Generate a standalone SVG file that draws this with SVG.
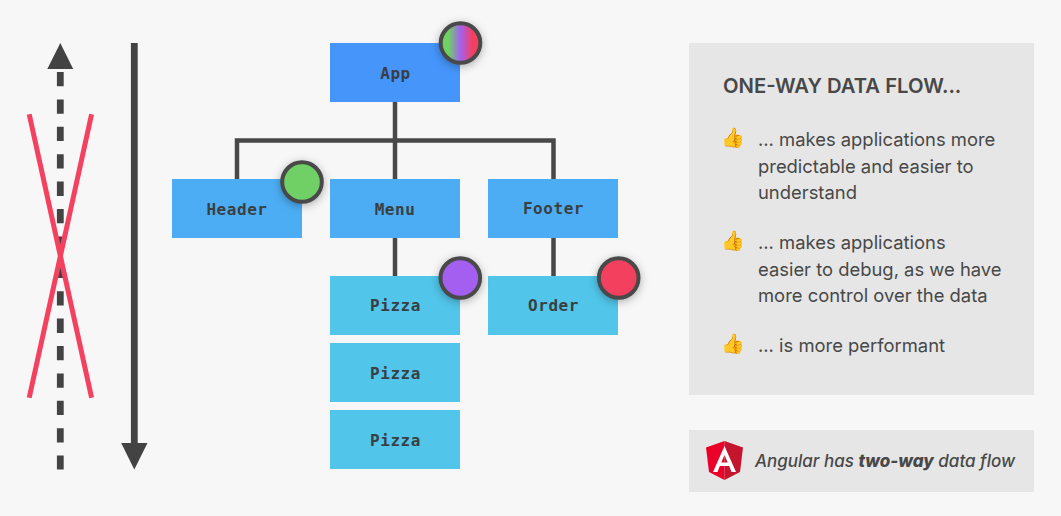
<svg xmlns="http://www.w3.org/2000/svg" width="1061" height="516" viewBox="0 0 1061 516">
<style>
.code{font-family:"DejaVu Sans Mono","Liberation Mono",monospace;font-size:16px;font-weight:700;fill:#3a3f42;text-anchor:middle;letter-spacing:.55px}
.body{font-family:Inter,"Noto Sans",sans-serif;font-size:18.4px;fill:#484848}
.emo{font-family:"Noto Color Emoji","DejaVu Sans",sans-serif;font-size:19px}
.wire{stroke:#484848;stroke-width:4.5;fill:none}
.dot{stroke:#484848;stroke-width:4;filter:url(#sh)}
.a{fill:#4595fb}.b{fill:#4cadf4}.c{fill:#51c5ea}
.x{stroke:#f4415f;stroke-width:5;fill:none}
</style>
<defs>
<linearGradient id="g"><stop offset=".2" stop-color="#6fd066"/><stop offset=".5" stop-color="#a45ff0"/><stop offset=".8" stop-color="#f4415f"/></linearGradient>
<filter id="sh" x="-40%" y="-40%" width="180%" height="180%"><feDropShadow dx="0" dy="2" stdDeviation="4" flood-color="#000" flood-opacity=".3"/></filter>
</defs>
<rect width="1061" height="516" fill="#f7f7f7"/>
<g id="flow-arrows">
<path d="M60.300 72V469.500" stroke="#434343" stroke-width="6.800" stroke-dasharray="14.300 13.100" fill="none"/>
<path d="M60.300 43L73.200 69H47.300Z" fill="#434343"/>
<path d="M134.300 43V445" stroke="#434343" stroke-width="6.800" fill="none"/>
<path d="M134.300 469.500L147.500 443H121.200Z" fill="#434343"/>
<path class="x" d="M29.200 114.300L91.600 397.800M91.600 114.300L29.200 397.800"/>
</g>
<g id="connectors">
<path class="wire" d="M237 179V140.500H553.500V179M395 102V179M395 238V277M553.500 238V277"/>
</g>
<g id="app"><rect class="a" x="330" y="43" width="130" height="59"/><text class="code" x="395.500" y="79">App</text><circle class="dot" cx="460.500" cy="43" r="19.800" fill="url(#g)"/></g>
<g id="header"><rect class="b" x="172" y="179" width="130" height="59"/><text class="code" x="237" y="215">Header</text><circle class="dot" cx="302" cy="182" r="19.800" fill="#6fd066"/></g>
<g id="menu"><rect class="b" x="330" y="179" width="130" height="59"/><text class="code" x="395" y="215">Menu</text></g>
<g id="footer"><rect class="b" x="488" y="179" width="130" height="59"/><text class="code" x="553.500" y="214">Footer</text></g>
<g id="pizza1"><rect class="c" x="330" y="276" width="130" height="59"/><text class="code" x="395.500" y="311">Pizza</text></g>
<g id="pizza2"><rect class="c" x="330" y="343" width="130" height="59"/><text class="code" x="395.500" y="379">Pizza</text></g>
<g id="pizza3"><rect class="c" x="330" y="410" width="130" height="59"/><text class="code" x="395.500" y="446">Pizza</text></g>
<g id="order"><rect class="c" x="488" y="276" width="130" height="59"/><text class="code" x="553.500" y="311">Order</text></g>
<g id="dots"><circle class="dot" cx="460.300" cy="278" r="19.800" fill="#a45ff0"/><circle class="dot" cx="618.700" cy="278" r="19.800" fill="#f4415f"/></g>
<g id="notes">
<rect x="689" y="43" width="345" height="352" fill="#e6e6e6"/>
<text class="body" x="723" y="93" style="font-size:20.250px;font-weight:600">ONE-WAY DATA FLOW...</text>
<text class="emo" x="721" y="144">👍</text>
<text class="body" x="758" y="146">... makes applications more</text>
<text class="body" x="758" y="173">predictable and easier to</text>
<text class="body" x="758" y="199">understand</text>
<text class="emo" x="721" y="247">👍</text>
<text class="body" x="758" y="249">... makes applications</text>
<text class="body" x="758" y="276">easier to debug, as we have</text>
<text class="body" x="758" y="302">more control over the data</text>
<text class="emo" x="721" y="350">👍</text>
<text class="body" x="758" y="352">... is more performant</text>
</g>
<g id="angular-note">
<rect x="689" y="430" width="345" height="62" fill="#e6e6e6"/>
<path d="M724.500 441L706 447.500L709 472L724.500 480Z" fill="#ea0029"/>
<path d="M724.500 441L743 447.500L740 472L724.500 480Z" fill="#c4142e"/>
<path d="M724.500 446L713 472H717.500L719.800 466H729.200L731.500 472H736ZM724.500 455L727.700 462.500H721.300Z" fill="#fff"/>
<text class="body" x="755" y="467" style="font-size:17px;font-style:italic;font-weight:500">Angular has <tspan font-weight="800">two-way</tspan> data flow</text>
</g>
</svg>
